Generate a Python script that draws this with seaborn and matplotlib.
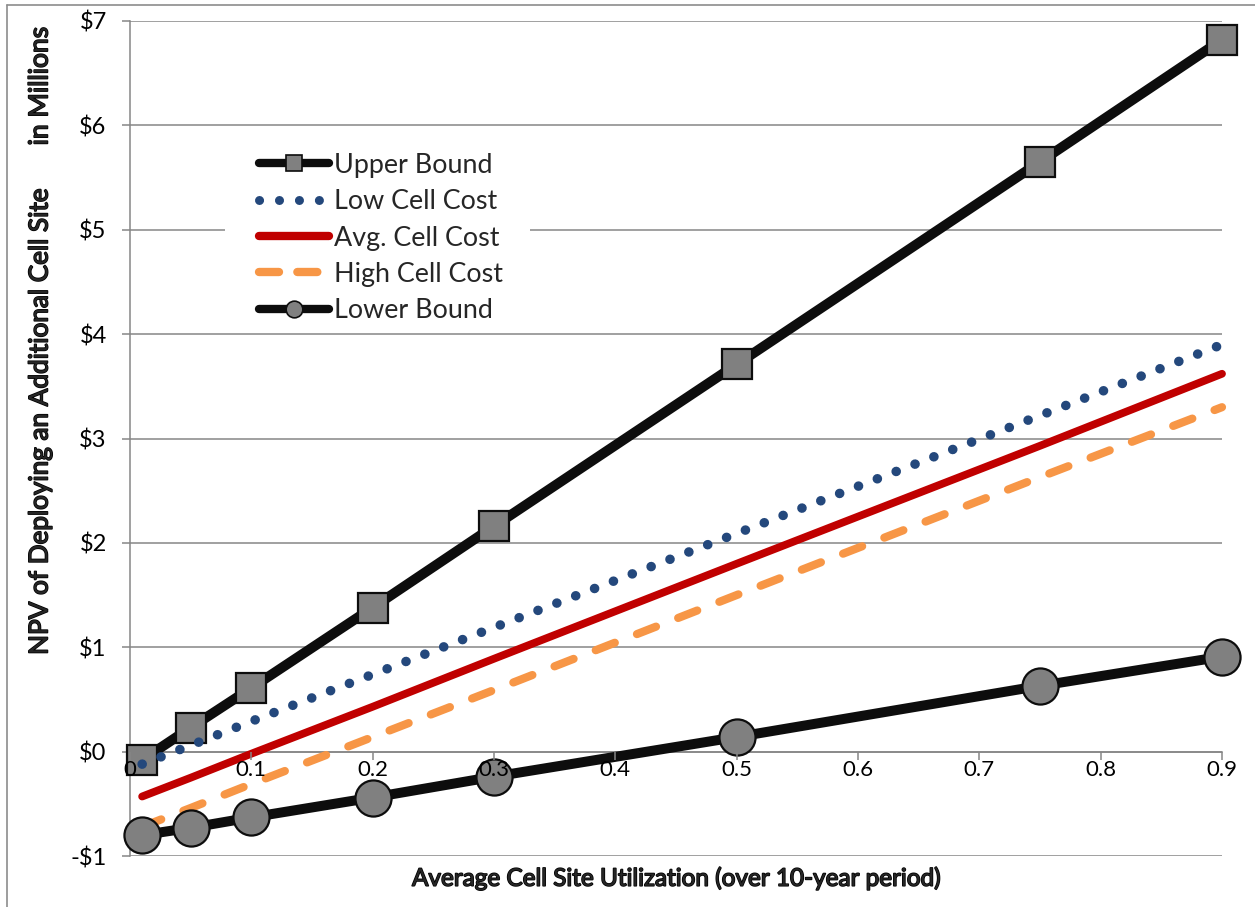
import matplotlib
matplotlib.use("Agg")
import matplotlib.pyplot as plt
from matplotlib.lines import Line2D
from matplotlib.patches import Rectangle
import matplotlib.patheffects as pe
import seaborn as sns

# ---- data ----
utilization = [0.01, 0.05, 0.1, 0.2, 0.3, 0.5, 0.75, 0.9]
upper_bound = [-0.08, 0.23, 0.61, 1.38, 2.16, 3.71, 5.65, 6.82]
low_cost = [-0.12, 0.06, 0.29, 0.74, 1.19, 2.09, 3.22, 3.90]
avg_cost = [-0.43, -0.25, -0.02, 0.43, 0.89, 1.80, 2.93, 3.62]
high_cost = [-0.72, -0.54, -0.31, 0.14, 0.59, 1.50, 2.63, 3.30]
lower_bound = [-0.80, -0.73, -0.63, -0.44, -0.24, 0.14, 0.63, 0.91]

series_names = ["Upper Bound", "Low Cell Cost", "Avg. Cell Cost", "High Cell Cost", "Lower Bound"]
x_ticks = [0, 0.1, 0.2, 0.3, 0.4, 0.5, 0.6, 0.7, 0.8, 0.9]
x_tick_labels = ["0", "0.1", "0.2", "0.3", "0.4", "0.5", "0.6", "0.7", "0.8", "0.9"]
y_ticks = [-1, 0, 1, 2, 3, 4, 5, 6, 7]
y_tick_labels = ["-$1", "$0", "$1", "$2", "$3", "$4", "$5", "$6", "$7"]

x_title = "Average Cell Site Utilization (over 10-year period)"
y_title = "NPV of Deploying an Additional Cell Site"
y_unit = "in Millions"

# ---- style ----
sns.set_style("white")
plt.rcParams["font.family"] = ["Lato", "DejaVu Sans"]

GRID = "#868686"
BLACK = "#0d0d0d"
GRAYFILL = "#808080"
BLUE = "#24487c"
RED = "#c00000"
ORANGE = "#f79646"
BOLD_FX = [pe.withStroke(linewidth=1.1, foreground="black")]

W, H = 1255, 907
fig = plt.figure(figsize=(W / 100, H / 100), dpi=100)
ax = fig.add_axes([130 / W, 1 - 856 / H, (1222 - 130) / W, (856 - 21) / H])

# white box behind the legend (hides gridline there)
ax.add_patch(Rectangle((0.087, 0.636), 0.279, 0.221, transform=ax.transAxes,
                       facecolor="white", edgecolor="none", zorder=1.8))

sns.lineplot(x=utilization, y=upper_bound, ax=ax, color=BLACK,
             marker="s", markersize=21.5, markerfacecolor=GRAYFILL,
             markeredgecolor=BLACK, markeredgewidth=1.6, zorder=3)
ax.lines[-1].set_linewidth(7.2)
sns.lineplot(x=utilization, y=low_cost, ax=ax, color=BLUE, zorder=3)
ax.lines[-1].set_linewidth(6.9)
ax.lines[-1].set_dashes((0.01, 2.1))
ax.lines[-1].set_dash_capstyle("round")
sns.lineplot(x=utilization, y=avg_cost, ax=ax, color=RED, zorder=3)
ax.lines[-1].set_linewidth(5.6)
ax.lines[-1].set_solid_capstyle("round")
sns.lineplot(x=utilization, y=high_cost, ax=ax, color=ORANGE, zorder=3)
ax.lines[-1].set_linewidth(5.9)
ax.lines[-1].set_dashes((2.5, 2.9))
ax.lines[-1].set_dash_capstyle("round")
sns.lineplot(x=utilization, y=lower_bound, ax=ax, color=BLACK,
             marker="o", markersize=26, markerfacecolor=GRAYFILL,
             markeredgecolor=BLACK, markeredgewidth=1.6, zorder=3)
ax.lines[-1].set_linewidth(7.2)
for ln in ax.lines:
    ln.set_clip_on(False)

ax.set_xlim(0, 0.9)
ax.set_ylim(-1, 7)

ax.grid(axis="y", color=GRID, lw=1.1)
ax.grid(axis="x", visible=False)

for s in ["top", "right"]:
    ax.spines[s].set_visible(False)
ax.spines["left"].set_color(GRID)
ax.spines["left"].set_linewidth(1.1)
ax.spines["bottom"].set_color(GRID)
ax.spines["bottom"].set_linewidth(1.1)
ax.spines["bottom"].set_position(("data", 0))

ax.set_yticks(y_ticks)
ax.set_yticklabels(y_tick_labels)
ax.set_xticks(x_ticks)
ax.set_xticklabels(x_tick_labels)

ax.tick_params(axis="y", direction="out", length=5.8, width=1.1, color=GRID,
               pad=11, left=True, labelcolor="black", labelsize=17)
ax.tick_params(axis="x", direction="out", length=6, width=1.1, color=GRID,
               pad=0, bottom=True, labelcolor="black", labelsize=16)
ax.xaxis.set_zorder(5)

ax.set_xlabel(x_title, fontsize=17.5, path_effects=BOLD_FX)
ax.xaxis.set_label_coords(0.5, -0.014)
ax.set_ylabel("")
fig.text(40 / W, 1 - 421 / H, y_title, rotation=90, ha="center", va="center",
         fontsize=18.8, path_effects=BOLD_FX)
fig.text(40 / W, 1 - 86 / H, y_unit, rotation=90, ha="center", va="center",
         fontsize=19, path_effects=BOLD_FX)

# legend
handles = [
    Line2D([], [], color=BLACK, lw=6, marker="s", markersize=12,
           markerfacecolor=GRAYFILL, markeredgecolor=BLACK, markeredgewidth=1.2,
           solid_capstyle="round"),
    Line2D([], [], color=BLUE, lw=6.5, dashes=(0.01, 2.2), dash_capstyle="round"),
    Line2D([], [], color=RED, lw=6, solid_capstyle="round"),
    Line2D([], [], color=ORANGE, lw=6, dashes=(2.4, 2.2), dash_capstyle="round"),
    Line2D([], [], color=BLACK, lw=6, marker="o", markersize=12,
           markerfacecolor=GRAYFILL, markeredgecolor=BLACK, markeredgewidth=1.2,
           solid_capstyle="round"),
]
leg = ax.legend(handles, series_names, loc="upper left", bbox_to_anchor=(0.118, 0.842),
                frameon=False, fontsize=19.4, handlelength=2.6, handletextpad=0.2,
                labelspacing=0.42, borderpad=0, borderaxespad=0)
leg.set_zorder(6)

# outer chart border (partially visible)
fig.add_artist(Line2D([7 / W, 7 / W], [0, 1 - 5 / H], color="#8c8c8c", lw=1.2))
fig.add_artist(Line2D([7 / W, 1], [1 - 5 / H, 1 - 5 / H], color="#8c8c8c", lw=1.2))

fig.savefig("out.png", dpi=100)
